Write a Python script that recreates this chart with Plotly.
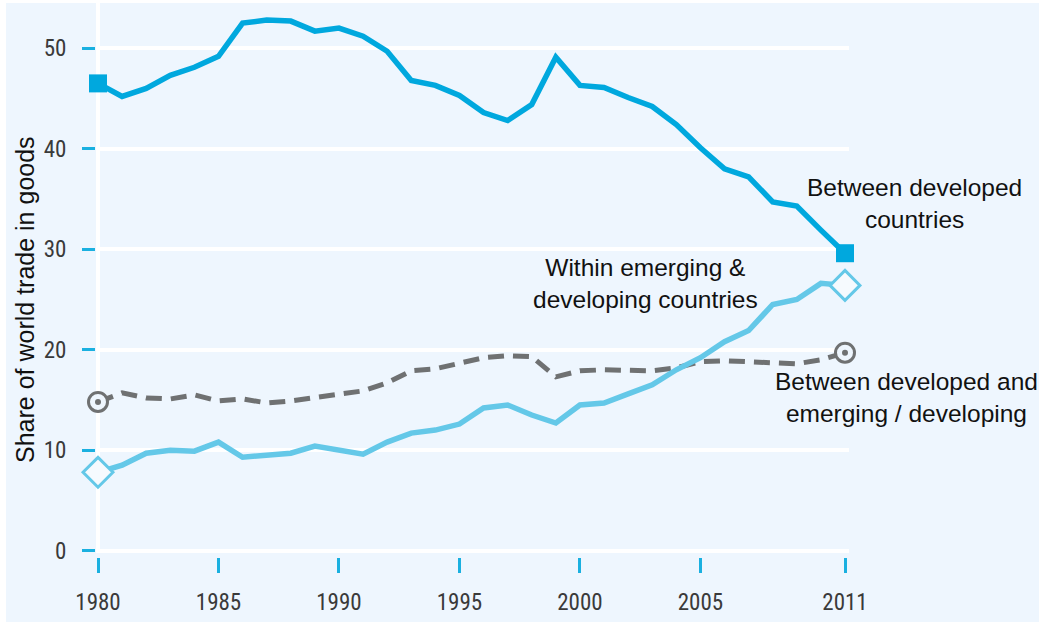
import plotly.graph_objects as go

years = list(range(1980, 2012))

between_developed = [46.5, 45.2, 46.0, 47.3, 48.1, 49.2, 52.5, 52.8, 52.7, 51.7,
                     52.0, 51.2, 49.7, 46.8, 46.3, 45.3, 43.6, 42.8, 44.4, 49.1,
                     46.3, 46.1, 45.1, 44.2, 42.4, 40.1, 38.0, 37.2, 34.7, 34.3,
                     31.9, 29.6]

developed_emerging = [14.8, 15.7, 15.2, 15.1, 15.5, 14.9, 15.1, 14.7, 14.9, 15.2,
                      15.6, 15.9, 16.7, 17.9, 18.1, 18.6, 19.2, 19.4, 19.3, 17.3,
                      17.9, 18.0, 18.0, 17.9, 18.2, 18.8, 18.9, 18.8, 18.6, 18.6,
                      19.0, 19.7]

within_emerging = [7.8, 8.5, 9.7, 10.0, 9.9, 10.8, 9.3, 9.5, 9.7, 10.4,
                   10.0, 9.6, 10.8, 11.7, 12.0, 12.6, 14.2, 14.5, 13.5, 12.7,
                   14.5, 14.7, 15.6, 16.5, 18.0, 19.2, 20.8, 21.9, 24.5, 25.0,
                   26.6, 26.4]

x_tickvals = [1980, 1985, 1990, 1995, 2000, 2005, 2011]
y_tickvals = [0, 10, 20, 30, 40, 50]

BG = "#EEF6FE"
DARK = "#00A8DE"
LIGHT = "#64C8E8"
GRAY = "#6F7172"
TICK = "#1AB0E0"

fig = go.Figure()

fig.add_trace(go.Scatter(x=years, y=developed_emerging, mode="lines",
                         line=dict(color=GRAY, width=5, dash="16px,9px"),
                         hoverinfo="skip"))
fig.add_trace(go.Scatter(x=years, y=within_emerging, mode="lines",
                         line=dict(color=LIGHT, width=5.5), hoverinfo="skip"))
fig.add_trace(go.Scatter(x=years, y=between_developed, mode="lines",
                         line=dict(color=DARK, width=5.5), hoverinfo="skip"))

ends = [years[0], years[-1]]
gray_ends = [developed_emerging[0], developed_emerging[-1]]
fig.add_trace(go.Scatter(x=ends, y=gray_ends,
                         mode="markers", cliponaxis=False, hoverinfo="skip",
                         marker=dict(symbol="circle", size=19, color=BG,
                                     line=dict(width=3, color=GRAY))))
fig.add_trace(go.Scatter(x=ends, y=gray_ends,
                         mode="markers", cliponaxis=False, hoverinfo="skip",
                         marker=dict(symbol="circle", size=6, color=GRAY,
                                     line=dict(width=0))))
fig.add_trace(go.Scatter(x=ends, y=[within_emerging[0], within_emerging[-1]],
                         mode="markers", cliponaxis=False, hoverinfo="skip",
                         marker=dict(symbol="diamond", size=23, color="#F6FAFE",
                                     line=dict(width=3, color=LIGHT))))
fig.add_trace(go.Scatter(x=ends, y=[between_developed[0], between_developed[-1]],
                         mode="markers", cliponaxis=False, hoverinfo="skip",
                         marker=dict(symbol="square", size=18, color=DARK,
                                     line=dict(width=0))))

tick_font = dict(family="Roboto Condensed, DejaVu Sans Condensed, sans-serif",
                 size=23, color="#3A3A3A")
ann_font = dict(family="Liberation Sans, Arial, sans-serif", size=24.5, color="#111111")

# plot area in pixels: left 96, right 849, top 3, bottom 557
L, R, T, B = 96, 849, 3, 557
W, H = 1039, 625


def px(xp):
    return (xp - L) / (R - L)


def py(yp):
    return (B - yp) / (B - T)


fig.update_layout(
    width=W, height=H,
    margin=dict(l=L, r=W - R, t=T, b=H - B, autoexpand=False),
    paper_bgcolor="white",
    plot_bgcolor="rgba(0,0,0,0)",
    showlegend=False,
    xaxis=dict(range=[1979.917, 2011.166], tickvals=x_tickvals,
               ticktext=[str(v) for v in x_tickvals],
               showgrid=False, zeroline=False, showline=False,
               ticks="outside", ticklen=15, tickwidth=3, tickcolor=TICK,
               tickfont=tick_font, ticklabelstandoff=9, automargin=False),
    yaxis=dict(range=[-0.63, 54.5], tickvals=y_tickvals,
               showgrid=True, gridcolor="white", gridwidth=4,
               zeroline=False, showline=False,
               ticks="outside", ticklen=13, tickwidth=3, tickcolor=TICK,
               tickfont=tick_font, ticklabelstandoff=11, automargin=False),
    shapes=[
        dict(type="rect", xref="paper", yref="paper", x0=px(6), x1=px(1045),
             y0=py(622), y1=py(3), fillcolor=BG, line=dict(width=0), layer="below"),
        dict(type="line", xref="x", yref="paper", x0=1980, x1=1980,
             y0=0.63 / 55.13, y1=1.0, line=dict(color="white", width=4),
             layer="below"),
    ],
    annotations=[
        dict(text="Share of world trade in goods", xref="paper", yref="paper",
             x=px(25), y=py(300), xanchor="center", yanchor="middle",
             textangle=-90, showarrow=False,
             font=dict(family="Liberation Sans, Arial, sans-serif", size=25,
                       color="#111111")),
        dict(text="Between developed<br>countries", xref="paper", yref="paper",
             x=px(915), y=py(203), xanchor="center", yanchor="middle",
             showarrow=False, font=ann_font, align="center"),
        dict(text="Within emerging &amp;<br>developing countries", xref="paper",
             yref="paper", x=px(645), y=py(283), xanchor="center", yanchor="middle",
             showarrow=False, font=ann_font, align="center"),
        dict(text="Between developed and<br>emerging / developing", xref="paper",
             yref="paper", x=px(906), y=py(397), xanchor="center", yanchor="middle",
             showarrow=False, font=ann_font, align="center"),
    ],
)

fig.write_html("out.html", config={"displayModeBar": False},
               post_script="document.body.style.margin='0';")
